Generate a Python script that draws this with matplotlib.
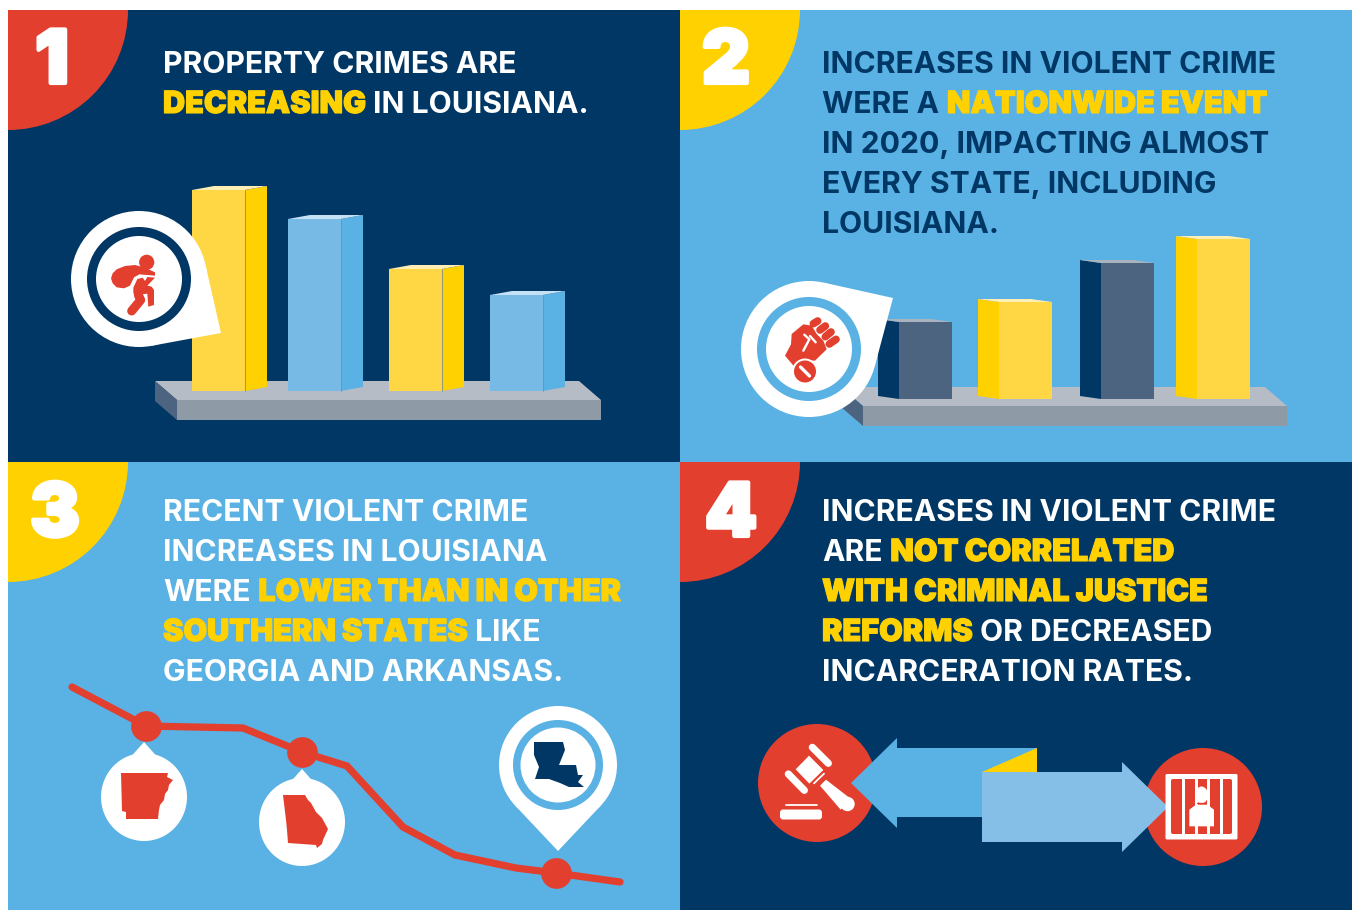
import numpy as np
import matplotlib
matplotlib.use('Agg')
import matplotlib.pyplot as plt
import matplotlib.patheffects as pe
from matplotlib.patches import Rectangle, Circle, Wedge, Polygon, Ellipse, FancyBboxPatch
from matplotlib import font_manager

NAVY = '#003764'
BLUE = '#5AB1E3'
LBLUE = '#78BAE6'
PALE = '#85BFE7'
YELLOW = '#FFD100'
LYELLOW = '#FFD644'
RED = '#E33F2F'
SLATE = '#4D6480'

# bar heights
prop_heights = [201, 172, 122, 96]
prop_colors = ['y', 'b', 'y', 'b']
violent_heights = [77, 97, 136, 160]
violent_colors = ['d', 'y', 'd', 'y']

# red trend line in panel 3
line_x = [72, 146, 243, 302, 347, 403, 455, 516, 556, 620]
line_y = [687, 726, 728, 752, 766, 827, 855, 868, 873, 882]
marker_x = [146, 302, 556]
marker_y = [726, 752, 873]

# headline text, one list of (words, highlighted) per line
text1 = [[('PROPERTY CRIMES ARE', 0)],
         [('DECREASING', 1), ('IN LOUISIANA.', 0)]]
text2 = [[('INCREASES IN VIOLENT CRIME', 0)],
         [('WERE A', 0), ('NATIONWIDE EVENT', 1)],
         [('IN 2020, IMPACTING ALMOST', 0)],
         [('EVERY STATE, INCLUDING', 0)],
         [('LOUISIANA.', 0)]]
text3 = [[('RECENT VIOLENT CRIME', 0)],
         [('INCREASES IN LOUISIANA', 0)],
         [('WERE', 0), ('LOWER THAN IN OTHER', 1)],
         [('SOUTHERN STATES', 1), ('LIKE', 0)],
         [('GEORGIA AND ARKANSAS.', 0)]]
text4 = [[('INCREASES IN VIOLENT CRIME', 0)],
         [('ARE', 0), ('NOT CORRELATED', 1)],
         [('WITH CRIMINAL JUSTICE', 1)],
         [('REFORMS', 1), ('OR DECREASED', 0)],
         [('INCARCERATION RATES.', 0)]]

FONT = 'Inter'
names = {f.name for f in font_manager.fontManager.ttflist}
if FONT not in names:
    FONT = 'Open Sans'

fig = plt.figure(figsize=(13.53, 9.10), dpi=100)
ax = fig.add_axes([0, 0, 1, 1])
ax.set_xlim(0, 1353)
ax.set_ylim(910, 0)
ax.axis('off')
renderer = fig.canvas.get_renderer()


def poly(pts, color, z):
    ax.add_patch(Polygon(pts, closed=True, fc=color, ec='none', zorder=z))


def stroke(xs, ys, color, lw, z):
    ax.plot(xs, ys, color=color, lw=lw, solid_capstyle='round', solid_joinstyle='round', zorder=z)


def crop(x0, y0, pts):
    # icon outlines were traced on 3x crops of the picture
    return [(x0 + a / 3, y0 + b / 3) for a, b in pts]


def cstroke(x0, y0, pts, color, lw, z):
    p = crop(x0, y0, pts)
    stroke([a for a, b in p], [b for a, b in p], color, lw, z)


def draw_lines(lines, x0, y0, color, size=21.7):
    for i, line in enumerate(lines):
        x = x0
        y = y0 + i * 40
        for words, hi in line:
            c = YELLOW if hi else color
            t = ax.text(x, y, words, fontsize=size * 1.015 if hi else size, family=FONT,
                        weight='black' if hi else 'bold', color=c, va='baseline', ha='left', zorder=10)
            if hi:
                t.set_path_effects([pe.withStroke(linewidth=0.8, foreground=YELLOW)])
            w = t.get_window_extent(renderer).width
            x += w + size * 0.36


def corner(x, y, color, num, nx, ny):
    ax.add_patch(Wedge((x, y), 120, 0, 90, fc=color, ec='none', zorder=2))
    # y axis runs downward, so angle 0-90 opens towards the panel
    t = ax.text(nx, ny, num, fontsize=53, family=FONT, weight='black', color='white',
                ha='center', va='baseline', zorder=3)
    t.set_path_effects([pe.withStroke(linewidth=3, foreground='white')])


def pin(cx, cy, r, tx, ty, z=6):
    # white circle with straight tangents running to the tip
    d = np.hypot(tx - cx, ty - cy)
    base = np.arctan2(ty - cy, tx - cx)
    off = np.arccos(r / d)
    p1 = (cx + r * np.cos(base + off), cy + r * np.sin(base + off))
    p2 = (cx + r * np.cos(base - off), cy + r * np.sin(base - off))
    ax.add_patch(Circle((cx, cy), r, fc='white', ec='none', zorder=z))
    poly([p1, (tx, ty), p2, (cx, cy)], 'white', z)


def platform(x0, y0):
    poly([(x0, y0), (x0 + 424, y0), (x0 + 446, y0 + 19), (x0 + 22, y0 + 19)], '#B5BCC5', 3)
    poly([(x0 + 22, y0 + 19), (x0 + 446, y0 + 19), (x0 + 446, y0 + 39), (x0 + 22, y0 + 39)], '#8E9AA6', 3)
    poly([(x0, y0), (x0 + 22, y0 + 19), (x0 + 22, y0 + 39), (x0, y0 + 20)], SLATE, 3)


# panels
ax.add_patch(Rectangle((8, 10), 672, 452, fc=NAVY, ec='none', zorder=1))
ax.add_patch(Rectangle((680, 10), 672, 452, fc=BLUE, ec='none', zorder=1))
ax.add_patch(Rectangle((8, 462), 672, 448, fc=BLUE, ec='none', zorder=1))
ax.add_patch(Rectangle((680, 462), 672, 448, fc=NAVY, ec='none', zorder=1))

corner(8, 10, RED, '1', 52, 83)
corner(680, 10, YELLOW, '2', 726, 83)
corner(8, 462, YELLOW, '3', 55, 536)
corner(680, 462, RED, '4', 731, 536)

draw_lines(text1, 163, 73, 'white')
draw_lines(text2, 822, 73, NAVY)
draw_lines(text3, 163, 521, 'white')
draw_lines(text4, 822, 521, 'white')

# panel 1 bars, side face on the right
platform(155, 381)
prop_x = [192, 288, 389, 490]
for x, h, c in zip(prop_x, prop_heights, prop_colors):
    front, side, top = (LYELLOW, YELLOW, '#FFEFB5') if c == 'y' else (LBLUE, BLUE, '#C5E1F4')
    ax.bar(x, -h, bottom=391, width=53, align='edge', color=front, zorder=4)
    t = 391 - h
    poly([(x + 53, t), (x + 75, t - 4), (x + 75, 387), (x + 53, 391)], side, 4)
    poly([(x, t), (x + 22, t - 4), (x + 75, t - 4), (x + 53, t)], top, 4)
    stroke([x + 53, x + 53], [t, 391], '#7f8f8f', 0.6, 5)

# panel 2 bars, side face on the left
platform(841, 387)
viol_x = [899, 999, 1101, 1197]
for x, h, c in zip(viol_x, violent_heights, violent_colors):
    front, side, top = (LYELLOW, YELLOW, '#FFEFB5') if c == 'y' else (SLATE, NAVY, '#A9B3BF')
    ax.bar(x, -h, bottom=399, width=53, align='edge', color=front, zorder=4)
    t = 399 - h
    poly([(x, t), (x - 21, t - 3), (x - 21, 396), (x, 399)], side, 4)
    poly([(x - 21, t - 3), (x + 32, t - 3), (x + 53, t), (x, t)], top, 4)

# pin 1 with burglar
pin(139, 279, 68, 221, 333)
ax.add_patch(Circle((139, 279), 52, fc=NAVY, ec='none', zorder=7))
ax.add_patch(Circle((139, 279), 43, fc='white', ec='none', zorder=7))
ax.add_patch(Circle((146.7, 262.3), 7.6, fc=RED, ec='none', zorder=8))
poly(crop(100, 245, [(33, 100), (38, 85), (50, 73), (75, 63), (105, 60), (135, 68), (165, 82), (165, 92),
                     (118, 88), (102, 97), (90, 122), (72, 130), (50, 127), (38, 115)]), RED, 8)
poly(crop(100, 245, [(100, 128), (112, 102), (128, 98), (135, 108), (142, 96), (165, 98), (142, 122),
                     (155, 125), (162, 135), (162, 180), (145, 185), (142, 146), (125, 148), (100, 146)]), RED, 8)
cstroke(100, 245, [(115, 150), (122, 165), (95, 198)], RED, 6.5, 8)

# pin 2 with fist
pin(809, 349, 68, 893, 298)
ax.add_patch(Circle((809, 349), 52, fc=BLUE, ec='none', zorder=7))
ax.add_patch(Circle((809, 349), 43, fc='white', ec='none', zorder=7))
poly(crop(775, 310, [(30, 137), (48, 103), (50, 72), (85, 43), (110, 47), (125, 72), (145, 92), (155, 118),
                     (120, 152), (75, 150), (58, 170)]), RED, 8)
cstroke(775, 310, [(115, 41), (128, 33)], RED, 5.5, 8)
cstroke(775, 310, [(135, 60), (151, 48)], RED, 5.5, 8)
cstroke(775, 310, [(151, 80), (168, 66)], RED, 5.5, 8)
cstroke(775, 310, [(163, 102), (183, 88)], RED, 5.5, 8)
cstroke(775, 310, [(85, 122), (103, 88), (88, 74)], 'white', 1.7, 9)
cstroke(775, 310, [(105, 78), (122, 97)], 'white', 1.7, 9)
ax.add_patch(Circle((805, 371.5), 13, fc='white', ec='none', zorder=9))
ax.add_patch(Circle((805, 371.5), 11, fc=RED, ec='none', zorder=10))
stroke([800.5, 809.5], [367, 376], 'white', 2.4, 11)

# panel 3 line and markers
ax.plot(line_x, line_y, color=RED, lw=5.2, solid_capstyle='round', solid_joinstyle='miter', zorder=3)
ax.scatter(marker_x, marker_y, s=490, color=RED, zorder=4, linewidths=0)

# state pins
ax.add_patch(Ellipse((144, 797), 86, 88, fc='white', ec='none', zorder=5))
poly([(144, 742), (128, 760), (160, 760)], 'white', 5)
poly([(121, 773), (168, 773), (167, 777), (173, 780), (169, 785), (168, 790), (165, 794), (164, 800),
      (160, 805), (159, 810), (158, 819), (126, 819), (126, 812), (122, 811)], RED, 6)
ax.add_patch(Ellipse((302, 822), 86, 88, fc='white', ec='none', zorder=5))
poly([(302, 769), (286, 787), (318, 787)], 'white', 5)
poly([(283, 795), (305, 795), (308, 800), (311, 803), (316, 812), (322, 818), (328, 829),
      (323, 840), (322, 844), (317, 848), (316, 845), (288, 843), (287, 830), (286, 820)], RED, 6)
pin(558, 765, 59, 558, 851)
ax.add_patch(Circle((558, 765), 45, fc=BLUE, ec='none', zorder=7))
ax.add_patch(Circle((558, 765), 37.5, fc='white', ec='none', zorder=7))
poly([(534, 742), (563, 742), (565, 750), (559, 765), (576, 765), (578, 775), (583, 775),
      (578, 782), (584, 787), (569, 787), (560, 783), (549, 779), (535, 779), (539, 767),
      (534, 755)], NAVY, 8)

# panel 4 circles and arrows
ax.add_patch(Circle((817, 783), 59, fc=RED, ec='none', zorder=3))
ax.add_patch(Circle((1203, 807), 59, fc=RED, ec='none', zorder=3))
poly([(851, 783), (897, 738), (897, 748), (1037, 748), (1037, 817), (897, 817), (897, 828)], BLUE, 4)
poly([(982, 772), (1037, 748), (1037, 772)], YELLOW, 5)
poly([(982, 772), (1122, 772), (1122, 762), (1168, 807), (1122, 852), (1122, 842), (982, 842)], PALE, 5)

# gavel
poly(crop(775, 735, [(62, 103), (102, 62), (145, 105), (103, 146)]), 'white', 6)
cstroke(775, 735, [(112, 37), (160, 85)], 'white', 5.2, 6)
cstroke(775, 735, [(40, 117), (88, 166)], 'white', 5.2, 6)
cstroke(775, 735, [(117, 145), (147, 116)], 'white', 1.3, 6)
poly(crop(775, 735, [(135, 152), (153, 134), (228, 192), (197, 224)]), 'white', 6)
ax.add_patch(Circle((847.5, 804), 7.2, fc='white', ec='none', zorder=6))
ax.add_patch(FancyBboxPatch((780, 809.5), 42, 10, boxstyle='round,pad=0,rounding_size=3', fc='white', ec='none', zorder=6))
stroke([785.5, 817], [804.5, 804.5], 'white', 1.3, 6)

# cell window
ax.add_patch(FancyBboxPatch((1165.5, 774), 72, 65.5, boxstyle='round,pad=0,rounding_size=1.5', fc='white', ec='none', zorder=6))
ax.add_patch(FancyBboxPatch((1171, 779), 61, 55, boxstyle='round,pad=0,rounding_size=2', fc=RED, ec='none', zorder=7))
for bx in [1182, 1195, 1207, 1220]:
    ax.add_patch(Rectangle((bx, 778), 2.5, 57, fc='white', ec='none', zorder=8))
ax.add_patch(Ellipse((1201.5, 795), 13, 17, fc='white', ec='none', zorder=9))
stroke([1197, 1206], [802.5, 802.5], RED, 1, 10)
poly(crop(1160, 768, [(88, 175), (88, 125), (108, 110), (142, 110), (162, 125), (162, 175)]), 'white', 9)

fig.savefig('out.png', dpi=100)
